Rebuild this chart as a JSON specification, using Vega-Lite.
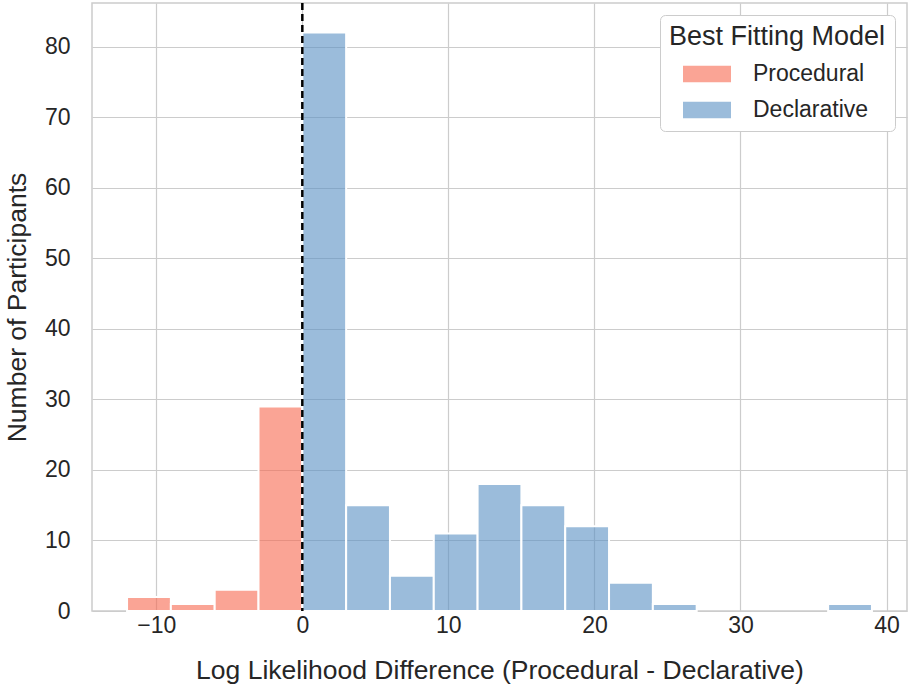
{
  "$schema": "https://vega.github.io/schema/vega-lite/v6.json",
  "autosize": "none",
  "width": 815,
  "height": 608,
  "padding": {"left": 92, "top": 3, "right": 2, "bottom": 78},
  "background": "white",
  "config": {
    "font": "Liberation Sans",
    "view": {"stroke": "#cccccc", "strokeWidth": 1.5},
    "axis": {
      "domain": false,
      "ticks": false,
      "grid": true,
      "gridColor": "#cccccc",
      "gridWidth": 1.2,
      "labelFont": "Liberation Sans",
      "labelFontSize": 23,
      "labelColor": "#262626",
      "titleFont": "Liberation Sans",
      "titleFontSize": 26.5,
      "titleFontWeight": "normal",
      "titleColor": "#262626"
    },
    "legend": {
      "titleFont": "Liberation Sans",
      "labelFont": "Liberation Sans"
    }
  },
  "datasets": {
    "bins": [
      {"bin_start": -12, "bin_end": -9, "count": 2, "model": "Procedural"},
      {"bin_start": -9, "bin_end": -6, "count": 1, "model": "Procedural"},
      {"bin_start": -6, "bin_end": -3, "count": 3, "model": "Procedural"},
      {"bin_start": -3, "bin_end": 0, "count": 29, "model": "Procedural"},
      {"bin_start": 0, "bin_end": 3, "count": 82, "model": "Declarative"},
      {"bin_start": 3, "bin_end": 6, "count": 15, "model": "Declarative"},
      {"bin_start": 6, "bin_end": 9, "count": 5, "model": "Declarative"},
      {"bin_start": 9, "bin_end": 12, "count": 11, "model": "Declarative"},
      {"bin_start": 12, "bin_end": 15, "count": 18, "model": "Declarative"},
      {"bin_start": 15, "bin_end": 18, "count": 15, "model": "Declarative"},
      {"bin_start": 18, "bin_end": 21, "count": 12, "model": "Declarative"},
      {"bin_start": 21, "bin_end": 24, "count": 4, "model": "Declarative"},
      {"bin_start": 24, "bin_end": 27, "count": 1, "model": "Declarative"},
      {"bin_start": 36, "bin_end": 39, "count": 1, "model": "Declarative"}
    ],
    "ref": [{"x": 0}]
  },
  "layer": [
    {
      "data": {"name": "bins"},
      "mark": {"type": "bar", "fillOpacity": 0.6, "stroke": "white", "strokeWidth": 2, "strokeOpacity": 1},
      "encoding": {
        "x": {
          "field": "bin_start",
          "type": "quantitative",
          "scale": {"domain": [-14.4, 41.4], "nice": false, "zero": false},
          "axis": {
            "values": [-10, 0, 10, 20, 30, 40],
            "title": "Log Likelihood Difference (Procedural - Declarative)",
            "labelPadding": 3,
            "titlePadding": 20
          }
        },
        "x2": {"field": "bin_end"},
        "y": {
          "field": "count",
          "type": "quantitative",
          "scale": {"domain": [0, 86.2], "nice": false},
          "axis": {
            "values": [0, 10, 20, 30, 40, 50, 60, 70, 80],
            "title": "Number of Participants",
            "labelPadding": 22,
            "titlePadding": 13
          }
        },
        "y2": {"datum": 0},
        "color": {
          "field": "model",
          "type": "nominal",
          "scale": {"domain": ["Procedural", "Declarative"], "range": ["#F6684F", "#588FC3"]},
          "legend": {
            "title": "Best Fitting Model",
            "orient": "none",
            "legendX": 568,
            "legendY": 12,
            "padding": 9,
            "titleFontSize": 27,
            "titleFontWeight": "normal",
            "titleColor": "#262626",
            "titlePadding": 11,
            "titleLimit": 400,
            "labelFontSize": 23,
            "labelColor": "#262626",
            "labelOffset": 34,
            "labelLimit": 300,
            "symbolType": "M-2,-0.68H2V0.68H-2Z",
            "symbolSize": 576,
            "symbolOpacity": 0.6,
            "symbolStrokeWidth": 0,
            "symbolOffset": 26,
            "rowPadding": 12,
            "strokeColor": "#cccccc",
            "fillColor": "white",
            "cornerRadius": 5
          }
        }
      }
    },
    {
      "data": {"name": "ref"},
      "mark": {"type": "rule", "color": "black", "strokeWidth": 2.5, "strokeDash": [7, 4]},
      "encoding": {
        "x": {"field": "x", "type": "quantitative"}
      }
    }
  ]
}
